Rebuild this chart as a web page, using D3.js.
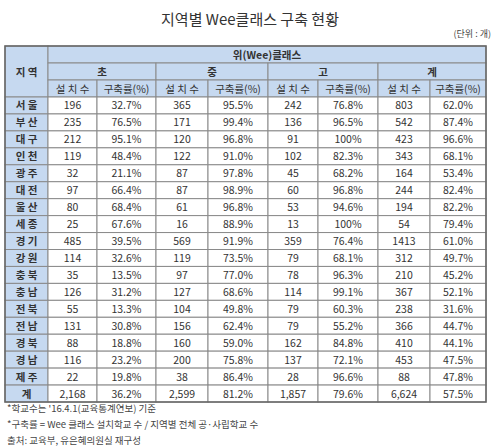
<!DOCTYPE html>
<html><head><meta charset="utf-8">
<script src="https://cdn.jsdelivr.net/npm/d3@7"></script>
<style>body{margin:0;background:#fff}svg{display:block}text{font-family:"Noto Sans CJK KR","Noto Sans",sans-serif}</style>
</head><body>
<script>
const title = "지역별 Wee클래스 구축 현황";
const unit = "(단위 : 개)";
const groups = ["초","중","고","계"];
const subHeads = ["설 치 수","구축률(%)"];
const regions = ["서울","부산","대구","인천","광주","대전","울산","세종","경기","강원","충북","충남","전북","전남","경북","경남","제주","계"];
const elemCount = ["196","235","212","119","32","97","80","25","485","114","35","126","55","131","88","116","22","2,168"];
const elemRate  = ["32.7%","76.5%","95.1%","48.4%","21.1%","66.4%","68.4%","67.6%","39.5%","32.6%","13.5%","31.2%","13.3%","30.8%","18.8%","23.2%","19.8%","36.2%"];
const midCount  = ["365","171","120","122","87","87","61","16","569","119","97","127","104","156","160","200","38","2,599"];
const midRate   = ["95.5%","99.4%","96.8%","91.0%","97.8%","98.9%","96.8%","88.9%","91.9%","73.5%","77.0%","68.6%","49.8%","62.4%","59.0%","75.8%","86.4%","81.2%"];
const highCount = ["242","136","91","102","45","60","53","13","359","79","78","114","79","79","162","137","28","1,857"];
const highRate  = ["76.8%","96.5%","100%","82.3%","68.2%","96.8%","94.6%","100%","76.4%","68.1%","96.3%","99.1%","60.3%","55.2%","84.8%","72.1%","96.6%","79.6%"];
const totCount  = ["803","542","423","343","164","244","194","54","1413","312","210","367","238","366","410","453","88","6,624"];
const totRate   = ["62.0%","87.4%","96.6%","68.1%","53.4%","82.4%","82.2%","79.4%","61.0%","49.7%","45.2%","52.1%","31.6%","44.7%","44.1%","47.5%","47.8%","57.5%"];
const notes = ["*학교수는  '16.4.1(교육통계연보) 기준","*구축률 = Wee 클래스 설치학교 수 / 지역별 전체 공·사립학교 수","출처: 교육부, 유은혜의원실 재구성"];

const W=500,H=447;
const svg=d3.select("body").append("svg").attr("width",W).attr("height",H);
const colEdges=[5,48,97,156,208,268,318,378,430,486];
const headTop=46, headH=17, dataTop=97, dataBottom=402;
const y=d3.scaleBand().domain(regions.map((r,i)=>i)).range([dataTop,dataBottom]);
const hdrFill="#c6d9f0", stroke="#8a8a8a", txt="#333";

svg.append("text").attr("x",250).attr("y",25).attr("text-anchor","middle").attr("font-size",15).attr("fill","#333").text(title);
svg.append("text").attr("x",491).attr("y",37).attr("text-anchor","end").attr("font-size",9).attr("fill","#444").text(unit);

function cell(x0,x1,y0,y1,fill,label,opt={}){
  svg.append("rect").attr("x",x0).attr("y",y0).attr("width",x1-x0).attr("height",y1-y0).attr("fill",fill).attr("stroke",stroke).attr("stroke-width",1);
  if(label!==undefined) svg.append("text").attr("x",(x0+x1)/2).attr("y",(y0+y1)/2+4)
    .attr("text-anchor","middle").attr("font-size",opt.size||10.5).attr("font-weight",opt.bold?"bold":"normal").attr("fill",opt.color||txt).text(label);
}
cell(colEdges[0],colEdges[1],headTop,dataTop,hdrFill,"지 역",{bold:true});
cell(colEdges[1],colEdges[9],headTop,headTop+headH,hdrFill,"위(Wee)클래스",{bold:true});
groups.forEach((g,i)=>cell(colEdges[1+2*i],colEdges[3+2*i],headTop+headH,headTop+2*headH,hdrFill,g,{bold:true}));
groups.forEach((g,i)=>subHeads.forEach((s,j)=>cell(colEdges[1+2*i+j],colEdges[2+2*i+j],headTop+2*headH,dataTop,hdrFill,s)));
const cols=[elemCount,elemRate,midCount,midRate,highCount,highRate,totCount,totRate];
regions.forEach((r,i)=>{
  const y0=y(i),y1=y(i)+y.bandwidth();
  cell(colEdges[0],colEdges[1],y0,y1,hdrFill,r.length===2?r[0]+" "+r[1]:r,{bold:true});
  cols.forEach((c,j)=>cell(colEdges[1+j],colEdges[2+j],y0,y1,"#fff",c[i]));
});
svg.append("rect").attr("x",colEdges[0]).attr("y",headTop).attr("width",colEdges[9]-colEdges[0]).attr("height",dataBottom-headTop).attr("fill","none").attr("stroke","#666").attr("stroke-width",1.5);
notes.forEach((n,i)=>svg.append("text").attr("x",7).attr("y",412+i*16).attr("font-size",9.5).attr("fill","#444").text(n));
</script>
</body></html>
